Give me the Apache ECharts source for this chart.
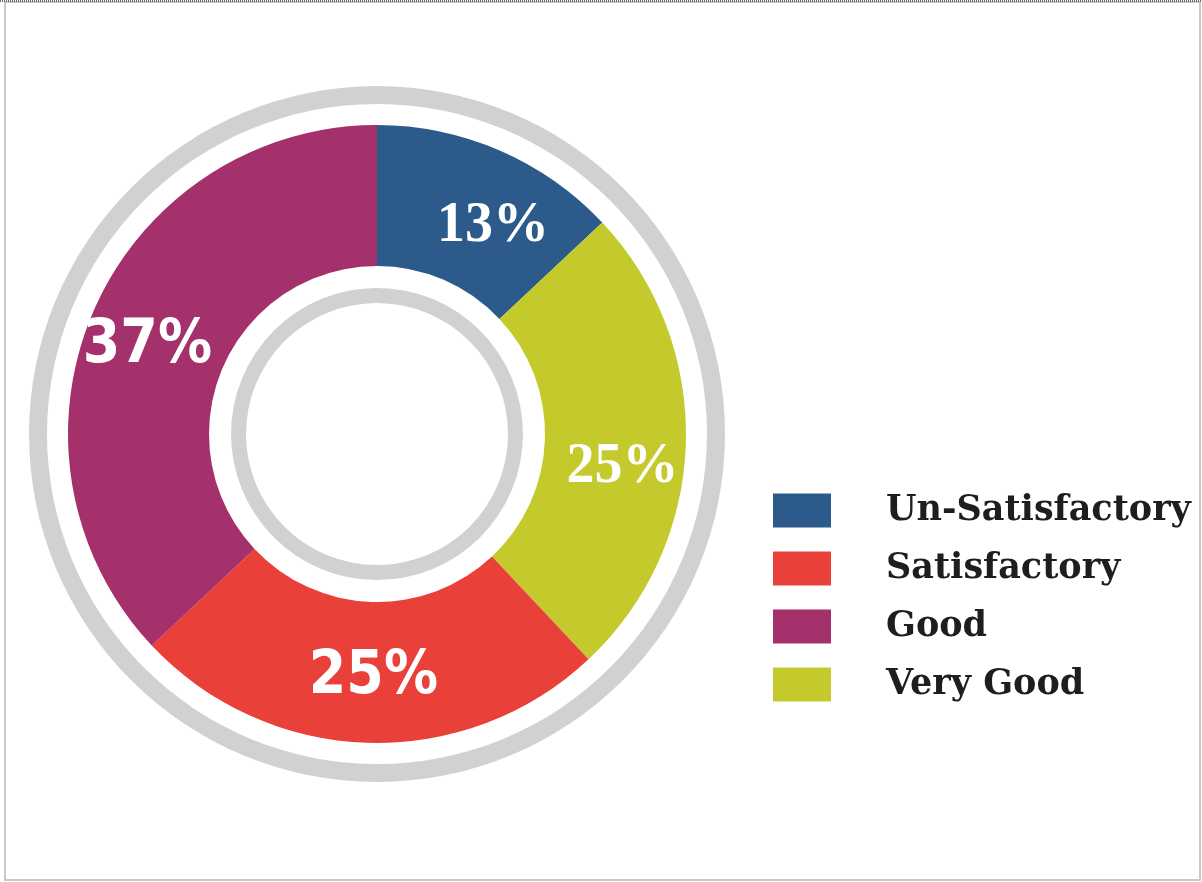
<!DOCTYPE html>
<html>
<head>
<meta charset="utf-8">
<title>Rating share</title>
<script src="https://cdn.jsdelivr.net/npm/echarts@6/dist/echarts.min.js"></script>
<style>
  html, body { margin: 0; padding: 0; background: #fff; }
  #main { width: 1202px; height: 882px; }
</style>
</head>
<body>
<div id="main"></div>
<script>
// slices, clockwise from 12 o'clock
var sliceNames = ['Un-Satisfactory', 'Very Good', 'Satisfactory', 'Good'];
var sliceValues = [13, 25, 25, 37];
var sliceColors = ['#2b5a8b', '#c4ca2b', '#e9403a', '#a4306c'];
// legend reads top to bottom in this order
var legendOrder = ['Un-Satisfactory', 'Satisfactory', 'Good', 'Very Good'];

var serifLabel = {
  fontFamily: "'Liberation Serif', 'Times New Roman', serif",
  fontWeight: 'bold',
  fontSize: 56
};
var narrowLabel = {
  fontFamily: "'DejaVu Sans Condensed', 'Liberation Sans Narrow', sans-serif",
  fontWeight: 'bold',
  fontSize: 60
};
// which font each slice label uses, plus a small nudge
var labelStyles = [
  { font: serifLabel, offset: [20, 14] },
  { font: serifLabel, offset: [4, 26] },
  { font: narrowLabel, offset: [4, 2] },
  { font: narrowLabel, offset: [-8, 8] }
];

var pieData = sliceNames.map(function (name, i) {
  var st = labelStyles[i];
  return {
    name: name,
    value: sliceValues[i],
    itemStyle: { color: sliceColors[i] },
    label: Object.assign({ offset: st.offset }, st.font)
  };
});

var chart = echarts.init(document.getElementById('main'));

var ringStyle = { color: '#d1d1d3' };

chart.setOption({
  backgroundColor: '#ffffff',
  animation: false,
  graphic: [{
    type: 'rect',
    shape: { x: 5, y: 2, width: 1195, height: 878 },
    style: { fill: 'none', stroke: '#c9c9c9', lineWidth: 2 },
    silent: true
  }, {
    type: 'line',
    shape: { x1: 0, y1: 1, x2: 1202, y2: 1 },
    style: { stroke: '#6a6a6a', lineWidth: 2, lineDash: [1, 1] },
    silent: true
  }],
  legend: {
    data: legendOrder,
    orient: 'vertical',
    left: 773,
    top: 493,
    padding: 0,
    itemWidth: 58,
    itemHeight: 34,
    itemGap: 23,
    icon: 'rect',
    selectedMode: false,
    textStyle: {
      fontFamily: "'DejaVu Serif', serif",
      fontWeight: 'bold',
      fontSize: 35,
      color: '#1e1e1e',
      padding: [0, 0, 0, 50]
    }
  },
  series: [
    {
      // outer grey ring
      type: 'pie',
      center: [377, 434],
      radius: [330, 348],
      silent: true,
      label: { show: false },
      labelLine: { show: false },
      itemStyle: ringStyle,
      data: [{ name: 'outer ring', value: 1 }]
    },
    {
      // inner grey ring
      type: 'pie',
      center: [377, 434],
      radius: [131, 146],
      silent: true,
      label: { show: false },
      labelLine: { show: false },
      itemStyle: ringStyle,
      data: [{ name: 'inner ring', value: 1 }]
    },
    {
      name: 'Rating',
      type: 'pie',
      center: [377, 434],
      radius: [168, 309],
      startAngle: 90,
      clockwise: true,
      avoidLabelOverlap: false,
      label: {
        show: true,
        position: 'inside',
        color: '#ffffff',
        formatter: '{c}%'
      },
      labelLine: { show: false },
      emphasis: { disabled: true },
      data: pieData
    }
  ]
});
</script>
</body>
</html>
